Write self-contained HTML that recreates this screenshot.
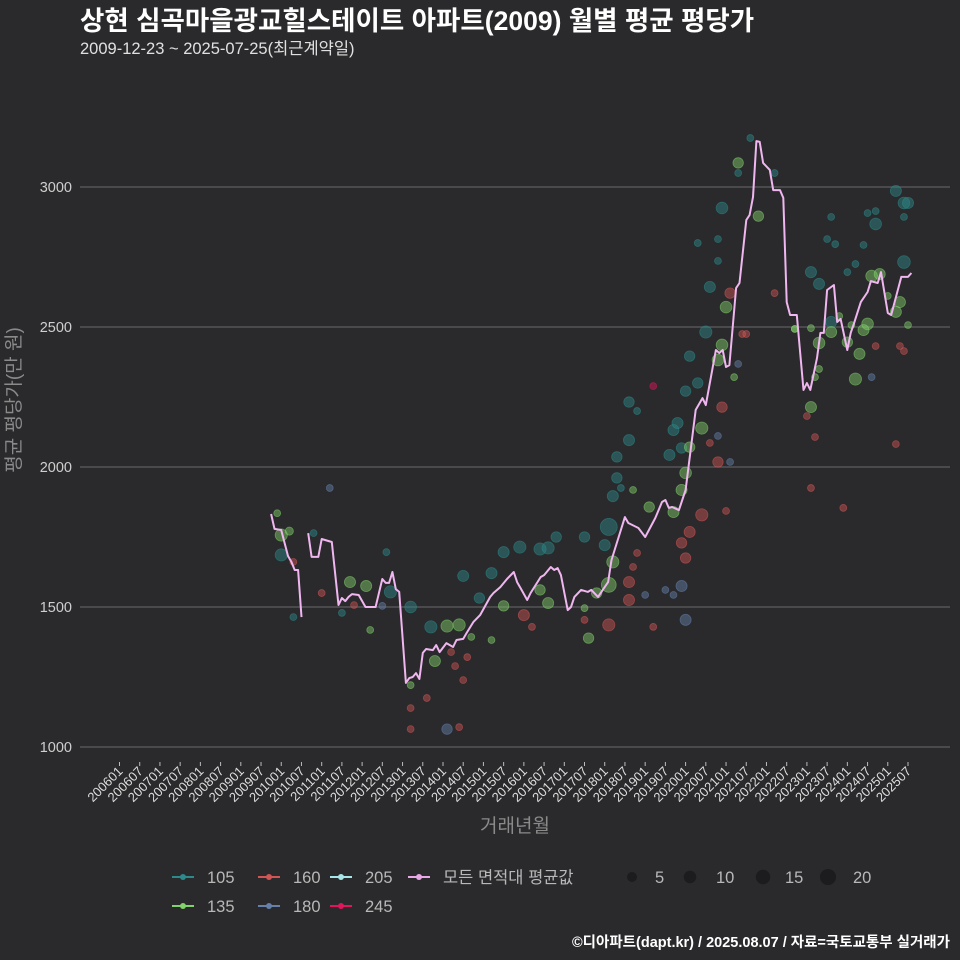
<!DOCTYPE html>
<html><head><meta charset="utf-8">
<style>
html,body{margin:0;padding:0;background:#2a2a2c;}
svg{display:block;font-family:"Liberation Sans","Noto Sans CJK KR",sans-serif;}
</style></head>
<body>
<svg id="chart" width="960" height="960" viewBox="0 0 960 960">
<rect width="960" height="960" fill="#2a2a2c"/>
<text x="80" y="30" fill="#ffffff" font-size="26.5" font-weight="bold">상현 심곡마을광교힐스테이트 아파트(2009) 월별 평균 평당가</text>
<text x="80" y="54" fill="#e0e0e0" font-size="16.5">2009-12-23 ~ 2025-07-25(최근계약일)</text>
<g id="grid"></g>
<g id="yticks"></g>
<g id="xticks"></g>
<g id="points"></g>
<g id="avgline"></g>
<text transform="translate(20,400) rotate(-90)" text-anchor="middle" fill="#8a8a8a" font-size="19">평균 평당가(만 원)</text>
<text x="515" y="832" text-anchor="middle" fill="#8a8a8a" font-size="19">거래년월</text>
<g id="legend"></g>
<text x="950" y="947" text-anchor="end" fill="#ffffff" font-size="14.5" font-weight="bold">©디아파트(dapt.kr) / 2025.08.07 / 자료=국토교통부 실거래가</text>
</svg>
<script>
const yTicks=[1000,1500,2000,2500,3000];
const xTickLabels=[];
for(let y=2006;y<=2025;y++){xTickLabels.push(y+"01");xTickLabels.push(y+"07");}
const avgMonths=["2009-10","2009-11","2010-01","2010-03","2010-04","2010-05","2010-06","2010-07",null,
"2010-09","2010-10","2010-12","2011-01","2011-04","2011-06","2011-07","2011-08","2011-09","2011-10","2011-12","2012-02","2012-05","2012-07","2012-08","2012-09","2012-10","2012-11","2012-12",
"2013-02","2013-03","2013-04","2013-05","2013-06","2013-07","2013-08","2013-10","2013-11","2013-12","2014-02","2014-04","2014-05","2014-07","2014-08","2014-10","2014-12",
"2015-03","2015-04","2015-06","2015-08","2015-10","2015-11","2015-12","2016-02","2016-03","2016-06","2016-07","2016-09","2016-10","2016-11","2016-12",
"2017-02","2017-03","2017-04","2017-06","2017-08","2017-09","2017-11","2018-02","2018-03","2018-07","2018-08","2018-11","2019-01","2019-04","2019-06","2019-07","2019-08","2019-09","2019-11",
"2020-01","2020-04","2020-06","2020-07","2020-09","2020-10","2020-11","2020-12","2021-01","2021-02","2021-04","2021-05","2021-07","2021-08","2021-09","2021-10","2021-11","2021-12",
"2022-02","2022-03","2022-05","2022-06","2022-07","2022-08","2022-10","2022-12","2023-01","2023-02","2023-04","2023-05","2023-06","2023-07","2023-09","2023-10","2023-11",
"2024-01","2024-02","2024-03","2024-05","2024-07","2024-08","2024-10","2024-11","2025-01","2025-02","2025-05","2025-07","2025-08"];
const avgValues=[1832,1779,1775,1682,1661,1632,1632,1464,null,
1764,1679,1679,1743,1732,1507,1532,1521,1536,1546,1543,1500,1500,1600,1586,1586,1625,1564,1554,
1229,1246,1250,1264,1243,1336,1350,1346,1364,1339,1371,1357,1382,1386,1407,1446,1471,
1536,1550,1571,1600,1625,1589,1568,1525,1550,1607,1614,1643,1632,1639,1614,
1489,1500,1536,1561,1554,1561,1536,1589,1668,1821,1800,1782,1750,1818,1875,1882,1854,1857,1846,
1918,2204,2246,2221,2354,2418,2407,2418,2357,2364,2639,2657,2882,2900,2964,3164,3161,3086,
3061,2989,2989,2961,2589,2543,2543,2275,2300,2275,2389,2479,2479,2632,2650,2518,2529,
2418,2479,2514,2589,2625,2664,2657,2696,2550,2543,2679,2679,2693];
const ptYears=[2009.9,2010.0,2010.0,2010.2,2010.3,2010.3,2011.2,2010.8,2012.6,2011.0,2011.7,2012.1,2011.5,2011.8,2012.2,2012.5,2012.7,2013.2,2013.2,2013.7,2013.6,2013.2,2014.1,2014.4,2013.8,2014.2,2014.3,2014.5,2014.6,2014.7,2015.2,2014.5,2015.2,2014.9,2015.5,2015.9,2015.5,2016.0,2016.2,2016.4,2016.6,2016.6,2016.4,2016.8,2017.5,2018.0,2018.1,2018.2,2018.1,2017.8,2017.5,2017.6,2018.1,2018.6,2018.6,2018.7,2018.8,2019.0,2019.5,2019.7,2019.9,2020.0,2019.2,2017.5,2018.6,2018.3,2018.2,2018.3,2018.4,2018.7,2019.1,2018.6,2018.8,2019.6,2019.7,2019.8,2019.9,2020.0,2020.1,2019.9,2019.7,2020.0,2020.3,2020.4,2020.1,2020.5,2020.9,2020.8,2021.0,2020.6,2020.9,2020.8,2020.8,2020.3,2021.3,2021.3,2021.6,2021.8,2021.1,2020.9,2020.4,2020.1,2019.9,2020.0,2019.2,2020.8,2021.1,2020.8,2021.0,2020.6,2021.3,2021.2,2021.4,2021.5,2022.2,2022.7,2022.2,2025.2,2025.4,2025.5,2024.5,2024.7,2025.4,2024.7,2023.6,2023.5,2023.7,2024.4,2024.2,2024.0,2023.1,2023.3,2025.4,2024.6,2024.8,2025.3,2025.2,2025.0,2022.7,2023.1,2023.6,2023.6,2023.8,2024.1,2024.5,2024.4,2023.3,2024.0,2024.3,2024.2,2023.2,2025.5,2023.3,2023.1,2023.0,2023.2,2024.6,2024.7,2025.3,2025.4,2025.2,2023.1,2023.9,2014.1,2014.4,2013.2];
const ptValues=[1835,1757,1686,1771,1661,1464,1925,1764,1696,1550,1589,1575,1479,1507,1418,1504,1554,1500,1221,1429,1175,1139,1432,1436,1307,1339,1289,1239,1321,1393,1382,1611,1621,1532,1696,1714,1504,1471,1429,1707,1711,1514,1561,1750,1750,1721,1786,1661,1579,1550,1496,1389,1436,1525,1589,1643,1693,1543,1561,1543,1575,1454,1429,1454,2096,2036,1896,1961,1925,1918,1857,2232,2200,2043,2132,2157,2068,1979,2071,1918,1839,2271,2300,2139,2396,2482,2436,2382,2571,2643,2925,2814,2736,2800,3086,3050,3175,2896,2621,2214,1829,1768,1729,1675,2289,2111,2018,2018,1843,2086,2368,2321,2475,2475,2621,2493,3050,2986,2943,2943,2907,2914,2893,2868,2893,2814,2796,2793,2725,2696,2696,2654,2732,2682,2689,2589,2554,2611,2493,2496,2518,2482,2539,2507,2511,2489,2443,2446,2404,2314,2321,2507,2350,2214,2182,2107,2321,2432,2432,2414,2082,1925,1854,1064,1071,1064];
const ptTypes=[135,135,105,135,160,105,180,105,105,160,135,135,105,160,135,180,105,105,135,105,160,160,135,135,135,160,160,160,160,135,135,105,105,105,105,105,135,160,160,105,105,135,135,105,105,105,105,135,135,135,135,135,160,160,160,160,160,180,180,180,180,180,160,160,105,105,105,105,105,135,135,105,105,105,105,105,105,135,135,135,135,105,105,135,105,105,135,135,135,105,105,105,105,105,135,105,105,135,160,160,160,160,160,160,245,180,180,160,160,160,180,135,160,160,160,135,105,105,105,105,105,105,105,105,105,105,105,105,105,105,105,105,105,135,135,135,135,135,135,135,105,135,135,135,135,135,135,135,135,135,135,135,135,135,160,160,180,160,160,160,160,160,160,180,160,160,160,180];
const ptCounts=[1,8,8,2,1,1,1,1,1,1,6,6,1,1,1,1,8,7,1,8,1,1,8,8,6,1,1,1,1,1,1,6,6,5,6,8,5,6,1,8,8,6,5,5,5,6,20,8,14,5,1,5,8,6,6,1,1,1,1,1,6,6,1,1,6,5,6,5,1,1,5,5,1,6,6,6,5,7,5,6,6,5,5,8,5,8,7,7,7,6,7,1,1,1,5,1,1,5,5,5,8,6,5,5,1,1,1,5,1,1,1,1,1,1,1,1,1,6,7,6,1,1,1,7,1,1,1,1,1,1,6,6,9,7,6,6,6,1,1,1,6,6,1,1,7,6,7,5,6,8,1,1,1,6,1,1,1,1,1,1,1,1,1,5,1,1];
const typeColors={105:"#2c8a8a",135:"#82d26b",160:"#d15555",180:"#6580ab",205:"#a6e6e8",245:"#e2155c"};

const NS="http://www.w3.org/2000/svg";
const X0=80,X1=950;
function yScale(v){return 747-(v-1000)*140/500;}
function monthIdx(s){const p=s.split("-");return (+p[0]-2006)*12+(+p[1]-1);}
function xMonth(m){return 119.5+m*(788.5/234);}
function xYear(y){return xMonth((y-2006)*12);}
function mk(tag,attrs,parent){const e=document.createElementNS(NS,tag);for(const k in attrs)e.setAttribute(k,attrs[k]);parent.appendChild(e);return e;}

const grid=document.getElementById("grid"),yt=document.getElementById("yticks");
yTicks.forEach(v=>{
  const l=mk("line",{x1:X0,x2:X1,y1:yScale(v),y2:yScale(v),stroke:"#5e5e60","stroke-width":1.2},grid);
  
  
  const t=mk("text",{x:72,y:yScale(v)+5,"text-anchor":"end",fill:"#cfcfcf","font-size":14.5},yt);
  t.textContent=v;
  
  
});
const xt=document.getElementById("xticks");
xTickLabels.forEach(lab=>{
  const m=(+lab.slice(0,4)-2006)*12+(+lab.slice(4)-1);
  const x=xMonth(m);
  const tk=mk("line",{x1:x,x2:x,y1:762,y2:766,stroke:"#bbbbbb","stroke-width":1},xt);
  
  
  const t=mk("text",{x:x+4,y:772,"text-anchor":"end",fill:"#dddddd","font-size":13,transform:"rotate(-45 "+(x+4)+" 772)"},xt);
  t.textContent=lab;
  
  
});
function rad(n){return 2+1.45*Math.sqrt(n);}
const pg=document.getElementById("points");
ptYears.forEach((yr,i)=>{
  const c=typeColors[ptTypes[i]];
  const el=mk("circle",{cx:xYear(yr),cy:yScale(ptValues[i]),r:rad(ptCounts[i]),fill:c,"fill-opacity":0.45,stroke:c,"stroke-opacity":0.55,"stroke-width":0.8},pg);
  
  
});
const lg=document.getElementById("avgline");
let d="",pen=false;
avgMonths.forEach((m,i)=>{
  if(m===null||avgValues[i]===null){pen=false;return;}
  d+=(pen?"L":"M")+xMonth(monthIdx(m)).toFixed(1)+","+yScale(avgValues[i]).toFixed(1);pen=true;
});
const pth=mk("path",{d:d,fill:"none",stroke:"#f0b6f0","stroke-width":2,"stroke-linejoin":"round"},lg);



const leg=document.getElementById("legend");
const entries=[["105",172,877,"#2c8a8a"],["160",258,877,"#d15555"],["205",330,877,"#a6e6e8"],["모든 면적대 평균값",408,877,"#e8a8e8"],["135",172,906,"#82d26b"],["180",258,906,"#6580ab"],["245",330,906,"#e2155c"]];
entries.forEach(e=>{
  const g=mk("g",{},leg);
  
  
  mk("line",{x1:e[1],x2:e[1]+22,y1:e[2],y2:e[2],stroke:e[3],"stroke-width":2},g);
  mk("circle",{cx:e[1]+11,cy:e[2],r:3,fill:e[3]},g);
  const t=mk("text",{x:e[1]+35,y:e[2]+6,fill:"#b8b8b8","font-size":16.5},g);
  t.textContent=e[0];
});
const sizes=[[5,632,655],[10,690,716],[15,763,785],[20,828,853]];
sizes.forEach(s=>{
  const g=mk("g",{},leg);
  
  
  mk("circle",{cx:s[1],cy:877,r:rad(s[0])*0.95,fill:"#1c1c1e"},g);
  const t=mk("text",{x:s[2],y:883,fill:"#b8b8b8","font-size":16.5},g);
  t.textContent=s[0];
});
</script>
</body></html>
